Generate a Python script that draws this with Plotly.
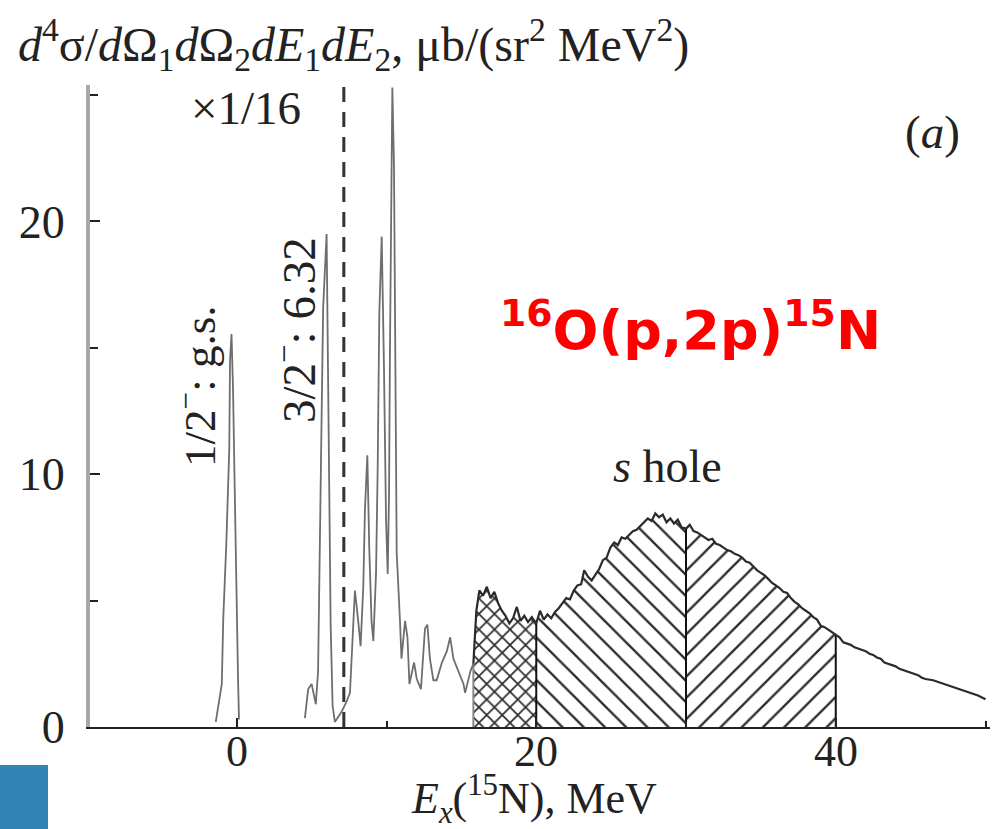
import numpy as np
import plotly.graph_objects as go

# ---------------- data ----------------
# ground-state peak (1/2-), values shown x1/16
e_gs = [-1.4, -1.2, -1.0, -0.9, -0.7, -0.5, -0.45, -0.35, -0.25, -0.13, -0.02, 0.09, 0.15]
y_gs = [0.2, 0.9, 1.7, 4.3, 7.2, 11.0, 14.5, 15.55, 13.4, 9.2, 4.8, 1.8, 0.3]

# remaining spectrum (E_x in MeV, cross section)
e_spec = [4.55, 4.77, 5.0, 5.28, 5.43, 5.55, 5.77, 6.0, 6.17, 6.27, 6.4, 6.55,
          7.0, 7.33, 7.56, 7.74, 7.89, 8.11, 8.27, 8.45, 8.56, 8.72, 8.85, 9.0,
          9.12, 9.3, 9.41, 9.52, 9.68, 9.83, 9.97, 10.08, 10.17, 10.23, 10.3,
          10.39, 10.5, 10.59, 10.68, 10.9, 11.0, 11.24, 11.4, 11.53, 11.84,
          12.02, 12.3, 12.57, 12.73, 12.9, 13.13, 13.35, 13.7, 14.03, 14.25,
          14.47, 14.8, 15.14, 15.25, 15.6, 15.8,
          16.0, 16.2, 16.45, 16.7, 16.95, 17.2, 17.45, 17.7, 17.95, 18.2, 18.45,
          18.7, 18.95, 19.2, 19.45, 19.7, 20.0, 20.25, 20.5, 20.75, 21.0, 21.25,
          21.5, 21.75, 22.0, 22.25, 22.5, 22.75, 23.0, 23.2, 23.45, 23.7, 23.95,
          24.2, 24.45, 24.7, 24.95, 25.2, 25.45, 25.7, 25.95, 26.2, 26.45, 26.7,
          26.95, 27.2, 27.45, 27.7, 27.95, 28.2, 28.45, 28.7, 28.95, 29.2, 29.45,
          29.7, 30.0, 30.25, 30.5, 30.75, 31.0, 31.25, 31.5, 31.75, 32.0, 32.25,
          32.5, 32.75, 33.0, 33.25, 33.5, 33.75, 34.0, 34.25, 34.5, 34.75, 35.0,
          35.25, 35.5, 35.75, 36.0, 36.25, 36.5, 36.75, 37.0, 37.25, 37.5, 37.75,
          38.0, 38.25, 38.5, 38.75, 39.0, 39.25, 39.5, 39.75, 40.0, 40.25, 40.5,
          40.75, 41.0, 41.25, 41.5, 41.75, 42.0, 42.25, 42.5, 42.75, 43.0, 43.25,
          43.5, 43.75, 44.0, 44.25, 44.5, 44.75, 45.0, 45.25, 45.5, 45.75, 46.0,
          46.5, 47.0, 47.5, 48.0, 48.5, 49.0, 49.5, 50.0]
y_spec = [0.35, 1.5, 1.7, 0.9, 2.2, 6.7, 16.6, 19.5, 10.2, 4.05, 0.85, 0.2,
          0.6, 1.0, 1.35, 3.4, 5.4, 4.2, 3.2, 5.55, 8.6, 10.75, 7.05, 4.2,
          3.4, 6.05, 10.2, 16.4, 19.4, 14.25, 8.2, 6.05, 9.25, 14.9, 21.1,
          25.3, 22.2, 13.1, 6.9, 4.2, 2.7, 4.2, 3.55, 1.7, 2.55,
          1.9, 1.5, 3.9, 4.05, 2.7, 1.85, 1.85, 2.55, 3.0, 3.55,
          2.7, 2.2, 1.7, 1.35, 2.2, 2.5,
          4.6, 5.4, 5.2, 5.55, 5.1, 5.35, 4.9, 4.6, 4.4, 4.1, 4.3,
          4.75, 4.2, 4.4, 4.15, 4.35, 4.1, 4.6, 4.25, 4.45, 4.3, 4.55,
          4.7, 4.9, 5.1, 5.05, 5.4, 5.6, 5.65, 6.2, 5.95, 5.8, 6.05,
          6.25, 6.6, 6.7, 7.1, 7.3, 7.2, 7.5, 7.45, 7.6, 7.75, 7.8,
          7.95, 8.1, 8.25, 8.15, 8.45, 8.3, 8.4, 8.1, 8.25, 8.05, 8.2,
          7.9, 7.85, 8.0, 7.75, 7.7, 7.6, 7.5, 7.4, 7.45, 7.25, 7.2,
          7.1, 7.0, 6.95, 6.85, 6.8, 6.7, 6.55, 6.5, 6.35, 6.2, 6.1,
          6.0, 5.85, 5.7, 5.6, 5.5, 5.35, 5.3, 5.1, 4.95, 4.85, 4.7,
          4.6, 4.5, 4.35, 4.25, 4.0, 3.95, 3.85, 3.75, 3.65, 3.55, 3.35,
          3.3, 3.25, 3.15, 3.1, 3.05, 3.0, 2.9, 2.85, 2.75, 2.7, 2.55,
          2.5, 2.45, 2.4, 2.3, 2.25, 2.2, 2.15, 2.1, 2.05, 1.95, 1.9,
          1.85, 1.75, 1.65, 1.55, 1.45, 1.35, 1.25, 1.1]

# hatched integration regions (MeV)
region_edges = [15.8, 20.0, 30.0, 40.0]
region_shapes = ["x", "\\", "/"]
region_sizes = [11, 15, 15]

x_ticks = [0, 20, 40]
y_ticks = [0, 10, 20]
dashed_E = 7.15  # boundary of x1/16 scaling

# ---------------- figure ----------------
W, H = 1008, 829
ML, MR, MT, MB = 90, 18, 85, 102
PW, PH = W - ML - MR, H - MT - MB


def px(xp):
    return (xp - ML) / PW


def py(yp):
    return (H - MB - yp) / PH


E = np.array(e_spec)
Y = np.array(y_spec)

fig = go.Figure()

# hatched fills
for i, shp in enumerate(region_shapes):
    a, b = region_edges[i], region_edges[i + 1]
    m = (E >= a) & (E <= b)
    fig.add_trace(go.Scatter(
        x=E[m], y=Y[m], mode="lines", line=dict(width=0, color="rgba(0,0,0,0)"),
        fill="tozeroy", fillcolor="white",
        fillpattern=dict(shape=shp, size=region_sizes[i],
                         solidity=0.28 if shp == "x" else 0.15,
                         fgcolor="#2a2a2a", bgcolor="white", fillmode="replace"),
        hoverinfo="skip", showlegend=False))

# vertical boundary lines
for k, v in enumerate(region_edges):
    yv = float(np.interp(v, E, Y))
    fig.add_trace(go.Scatter(
        x=[v, v], y=[0, yv], mode="lines",
        line=dict(color="#888888" if k == 0 else "#111111", width=2),
        hoverinfo="skip", showlegend=False))

# spectrum lines
fig.add_trace(go.Scatter(x=e_gs, y=y_gs, mode="lines",
                         line=dict(color="#6e6e6e", width=1.8), showlegend=False))
low = E <= region_edges[0]
fig.add_trace(go.Scatter(x=E[low], y=Y[low], mode="lines",
                         line=dict(color="#6e6e6e", width=1.8), showlegend=False))
high = E >= region_edges[0]
fig.add_trace(go.Scatter(x=E[high], y=Y[high], mode="lines",
                         line=dict(color="#2b2b2b", width=2.2), showlegend=False))

serif = "Liberation Serif, Times New Roman, serif"
FS = 46

fig.update_layout(
    width=W, height=H,
    margin=dict(l=ML, r=MR, t=MT, b=MB),
    paper_bgcolor="white", plot_bgcolor="white",
    font=dict(family=serif, size=FS, color="#222222"),
    showlegend=False,
    xaxis=dict(range=[-9.8, 50.3], showgrid=False, zeroline=False,
               showline=True, linecolor="#222222", linewidth=2,
               ticks="inside", ticklen=9, tickwidth=2, tickcolor="#222222",
               tickvals=x_ticks, showticklabels=False,
               minor=dict(ticks="inside", ticklen=6, tickwidth=1.5,
                          tickcolor="#222222", dtick=10, tick0=0)),
    yaxis=dict(range=[0, 25.4], showgrid=False, zeroline=False,
               showline=True, linecolor="#a8a8a8", linewidth=4,
               ticks="inside", ticklen=10, tickwidth=2, tickcolor="#222222",
               tickvals=y_ticks, ticktext=[str(t) for t in y_ticks],
               tickfont=dict(family=serif, size=FS, color="#222222"),
               minor=dict(ticks="inside", ticklen=8, tickwidth=1.5,
                          tickcolor="#222222", dtick=5, tick0=0),
               ticklabelstandoff=12),
)

# x tick labels placed just under the axis
for t in x_ticks:
    fig.add_annotation(text=str(t), xref="x", yref="paper", x=t, y=py(751),
                       xanchor="center", yanchor="middle", showarrow=False,
                       font=dict(family=serif, size=44, color="#222222"))

# dashed x1/16 boundary
fig.add_shape(type="line", xref="x", yref="paper", x0=dashed_E, x1=dashed_E,
              y0=0, y1=py(82), line=dict(color="#333333", width=3, dash="15px,10px"))

# blue block bottom-left
fig.add_shape(type="rect", xref="paper", yref="paper",
              x0=px(0), x1=px(48), y0=py(829), y1=py(765),
              line=dict(width=0), fillcolor="#3284b8")

ann = [
    dict(text="<i>d</i><sup>4</sup>σ/<i>d</i>Ω<sub>1</sub><i>d</i>Ω<sub>2</sub><i>dE</i><sub>1</sub><i>dE</i><sub>2</sub>, μb/(sr<sup>2</sup> MeV<sup>2</sup>)",
         x=px(16), y=py(44), xanchor="left", yanchor="middle", size=48),
    dict(text="×1/16", x=px(246), y=py(108), xanchor="center", yanchor="middle", size=47),
    dict(text="(<i>a</i>)", x=px(932), y=py(132), xanchor="center", yanchor="middle", size=47),
    dict(text="<i>s</i> hole", x=px(667), y=py(467), xanchor="center", yanchor="middle", size=46),
    dict(text="<i>E<sub>x</sub></i>(<sup>15</sup>N), MeV", x=px(534), y=py(799),
         xanchor="center", yanchor="middle", size=44),
]
for a in ann:
    fig.add_annotation(text=a["text"], xref="paper", yref="paper", x=a["x"], y=a["y"],
                       xanchor=a["xanchor"], yanchor=a["yanchor"], showarrow=False,
                       font=dict(family=serif, size=a["size"], color="#222222"))

fig.add_annotation(text="1/2<sup>−</sup>: g.s.", xref="paper", yref="paper",
                   x=px(196), y=py(386), textangle=-90, showarrow=False,
                   xanchor="center", yanchor="middle",
                   font=dict(family=serif, size=45, color="#222222"))
fig.add_annotation(text="3/2<sup>−</sup>: 6.32", xref="paper", yref="paper",
                   x=px(295), y=py(330), textangle=-90, showarrow=False,
                   xanchor="center", yanchor="middle",
                   font=dict(family=serif, size=47, color="#222222"))

fig.add_annotation(text="<b><sup>16</sup>O(p,2p)<sup>15</sup>N</b>", xref="paper", yref="paper",
                   x=px(690), y=py(326), showarrow=False, xanchor="center", yanchor="middle",
                   font=dict(family="DejaVu Sans, Noto Sans, sans-serif", size=54, color="#ff0000"))

fig.write_html("out.html")
